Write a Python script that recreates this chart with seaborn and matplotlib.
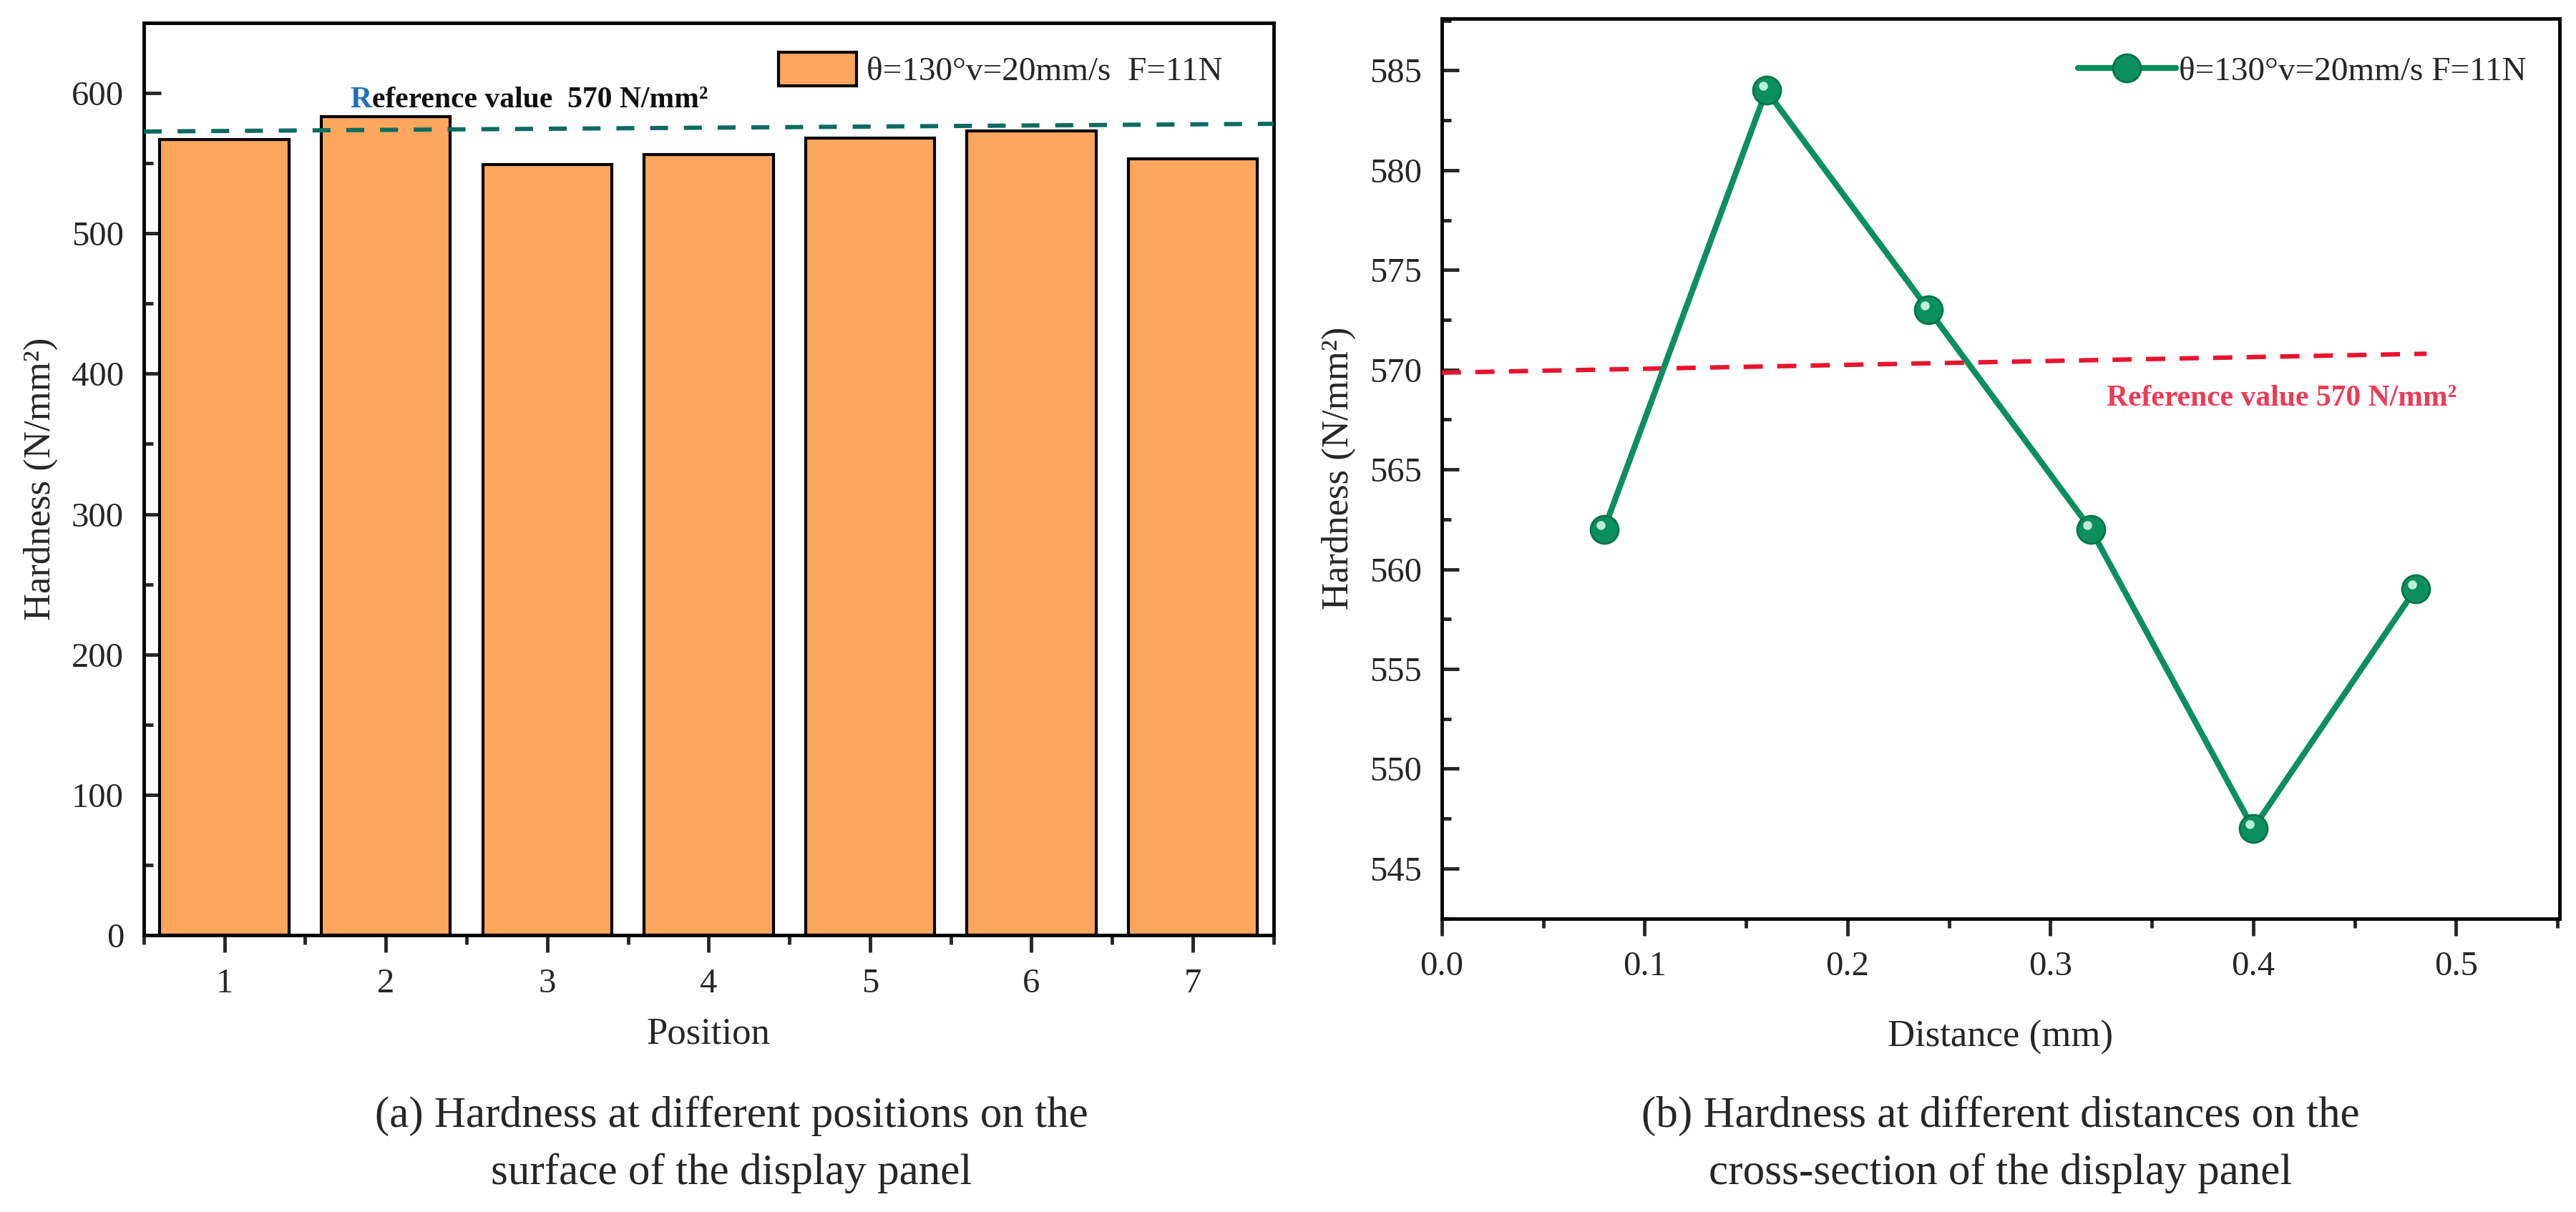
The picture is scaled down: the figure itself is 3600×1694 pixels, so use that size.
import numpy as np
import matplotlib
matplotlib.use("Agg")
import matplotlib.pyplot as plt
import seaborn as sns
from matplotlib.patches import Patch
from matplotlib.ticker import MultipleLocator, FormatStrFormatter
from matplotlib.transforms import offset_copy

# ---- data ----
positions = [1, 2, 3, 4, 5, 6, 7]
hardness_surface = [567, 583, 549, 556, 568, 573, 553]

distance_mm = [0.08, 0.16, 0.24, 0.32, 0.40, 0.48]
hardness_section = [562, 584, 573, 562, 547, 559]

# reference lines as drawn (slightly tilted in the original figure)
ref_a_x = [0.5, 7.5]
ref_a_y = [572.6, 578.1]
ref_b_x = [0.0, 0.4855]
ref_b_y = [569.85, 570.8]

legend_a = "θ=130°v=20mm/s  F=11N"
legend_b = "θ=130°v=20mm/s F=11N"
ylabel = "Hardness (N/mm²)"
caption_a = ["(a) Hardness at different positions on the",
             "surface of the display panel"]
caption_b = ["(b) Hardness at different distances on the",
             "cross-section of the display panel"]

BAR_COLOR = "#FDA65E"
GREEN = "#0B8F5F"
TEAL = "#0D6B60"
RED = "#E8142F"

sns.set_style("ticks")
plt.rcParams["font.family"] = ["Liberation Serif", "DejaVu Serif"]

TICK_FS = 35
LABEL_FS = 38
LEGEND_FS = 34
NOTE_FS = 30
CAPTION_FS = 44
SPINE_W = 3.5

fig = plt.figure(figsize=(36, 16.94), dpi=100)
ax1 = fig.add_axes([0.0558, 0.2285, 0.4386, 0.7526])
ax2 = fig.add_axes([0.5597, 0.2423, 0.4339, 0.7424])

# ---------------- (a) bars ----------------
sns.barplot(x=positions, y=hardness_surface, native_scale=True, width=0.8,
            color=BAR_COLOR, saturation=1, edgecolor="black", linewidth=3,
            ax=ax1)
ax1.plot(ref_a_x, ref_a_y, color=TEAL, lw=4.3, linestyle=(0, (4.2, 3.7)),
         zorder=5)

ax1.set_xlim(0.5, 7.5)
ax1.set_ylim(0, 650)
ax1.xaxis.set_major_locator(MultipleLocator(1))
ax1.xaxis.set_minor_locator(MultipleLocator(0.5))
ax1.yaxis.set_major_locator(MultipleLocator(100))
ax1.yaxis.set_minor_locator(MultipleLocator(50))
ax1.set_xlabel("Position", fontsize=LABEL_FS, labelpad=18)
ax1.set_ylabel(ylabel, fontsize=LABEL_FS, labelpad=14)

t_r = ax1.text(1.78, 595, "R", color="#1F6FC0", fontsize=NOTE_FS,
               fontweight="bold", va="center", ha="left")
ax1.annotate("eference value  570 N/mm²", xy=(1, 0), xycoords=t_r,
             va="bottom", ha="left", fontsize=NOTE_FS, fontweight="bold",
             color="#111111")

ax1.legend(handles=[Patch(facecolor=BAR_COLOR, edgecolor="black",
                          linewidth=3, label=legend_a)],
           loc="upper left", bbox_to_anchor=(0.562, 0.968), frameon=False,
           fontsize=LEGEND_FS, handlelength=2.3, handleheight=1.15,
           handletextpad=0.3, borderpad=0, borderaxespad=0)

# ---------------- (b) line ----------------
sns.lineplot(x=distance_mm, y=hardness_section, color=GREEN, lw=6,
             marker="o", markersize=28, markeredgecolor="#07734B",
             markeredgewidth=2, label=legend_b, ax=ax2, zorder=4)
hl = offset_copy(ax2.transData, fig=fig, x=-5, y=6, units="dots")
ax2.plot(distance_mm, hardness_section, "o", ms=9, color="#BDEFD8",
         mec="none", transform=hl, zorder=6)
ax2.plot(ref_b_x, ref_b_y, color=RED, lw=4.5, linestyle=(0, (4.3, 3.2)),
         zorder=3)
ax2.text(0.414, 568.55, "Reference value 570 N/mm²", color="#EE3A55",
         fontsize=NOTE_FS, fontweight="bold", ha="center", va="center")

ax2.set_xlim(0, 0.551)
ax2.set_ylim(542.5, 587.6)
ax2.xaxis.set_major_locator(MultipleLocator(0.1))
ax2.xaxis.set_minor_locator(MultipleLocator(0.05))
ax2.yaxis.set_major_locator(MultipleLocator(5))
ax2.yaxis.set_minor_locator(MultipleLocator(2.5))
ax2.xaxis.set_major_formatter(FormatStrFormatter("%.1f"))
ax2.set_xlabel("Distance (mm)", fontsize=LABEL_FS, labelpad=38)
ax2.set_ylabel(ylabel, fontsize=LABEL_FS, labelpad=14)

ax2.legend(loc="upper left", bbox_to_anchor=(0.569, 0.958),
           frameon=False, fontsize=LEGEND_FS, handlelength=2.9,
           handletextpad=0.1, numpoints=1, borderpad=0, borderaxespad=0)

# ---------------- shared styling ----------------
for ax in (ax1, ax2):
    for sp in ax.spines.values():
        sp.set_visible(True)
        sp.set_linewidth(SPINE_W)
        sp.set_color("black")
    ax.tick_params(axis="y", which="both", direction="in", width=SPINE_W,
                   labelsize=TICK_FS, pad=20, left=True, right=False)
    ax.tick_params(axis="y", which="major", length=17)
    ax.tick_params(axis="y", which="minor", length=9)
    ax.tick_params(axis="x", which="both", direction="out", width=SPINE_W,
                   labelsize=TICK_FS, pad=16, bottom=True, top=False)
    ax.tick_params(axis="x", which="major", length=17)
    ax.tick_params(axis="x", which="minor", length=9)

for cx, lines in ((1022 / 3600, caption_a), (2796 / 3600, caption_b)):
    fig.text(cx, 0.0703, lines[0], ha="center", va="baseline",
             fontsize=CAPTION_FS)
    fig.text(cx, 0.0230, lines[1], ha="center", va="baseline",
             fontsize=CAPTION_FS)

fig.savefig("out.png", dpi=100)
